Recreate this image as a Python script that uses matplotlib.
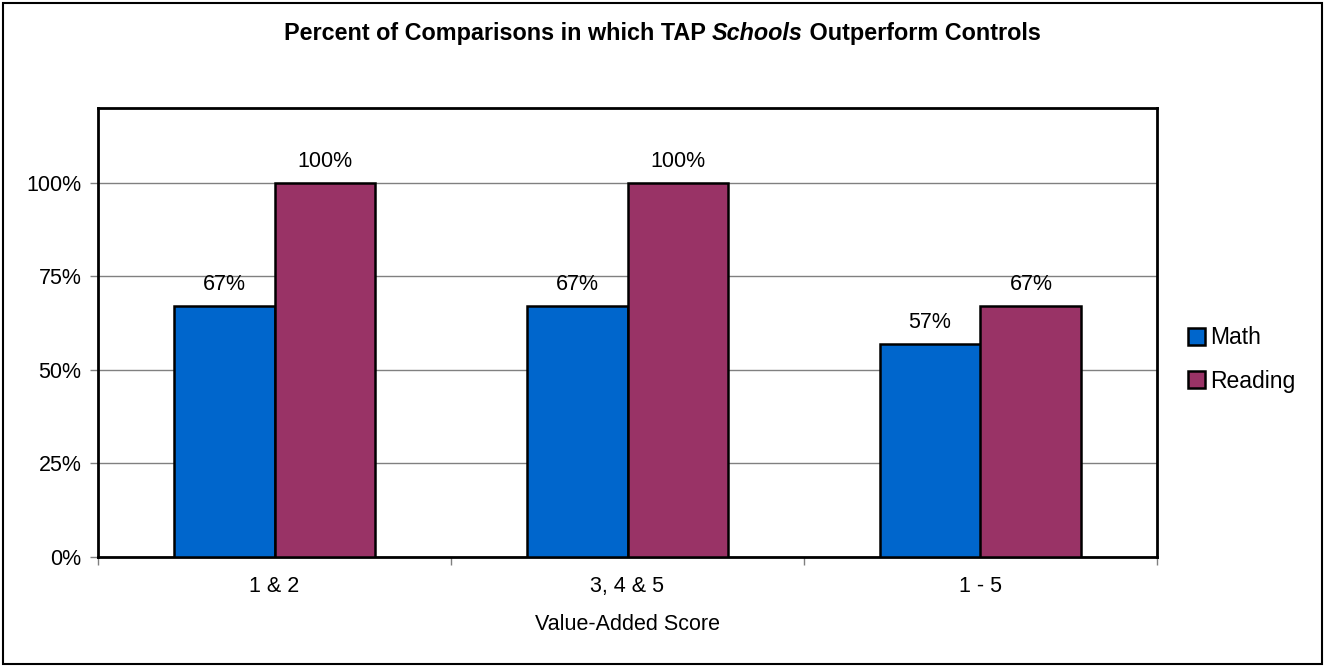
import numpy as np
import matplotlib
matplotlib.use("Agg")
import matplotlib.pyplot as plt
from matplotlib.ticker import FixedLocator, PercentFormatter

categories = ["1 & 2", "3, 4 & 5", "1 - 5"]
math_vals = [67, 67, 57]
reading_vals = [100, 100, 67]
series_names = ["Math", "Reading"]
colors = ["#0066CC", "#993366"]

plt.rcParams["font.family"] = ["Liberation Sans", "DejaVu Sans"]
FS = 15.5

fig = plt.figure(figsize=(13.25, 6.66), dpi=100)
ax = fig.add_axes([98 / 1325, 1 - 557 / 666, (1157 - 98) / 1325, (557 - 108) / 666])

x = np.arange(len(categories))
w = 0.286
for i, (vals, name, c) in enumerate(zip([math_vals, reading_vals], series_names, colors)):
    pos = x + (i - 0.5) * w
    ax.bar(pos, vals, width=w, color=c, edgecolor="black", linewidth=1.8,
           label=name, zorder=3)
    for p, v in zip(pos, vals):
        ax.text(p, v + 3.0, f"{v}%", ha="center", va="bottom", fontsize=FS)

ax.set_xlim(-0.5, len(categories) - 0.5)
ax.set_ylim(0, 120)
ax.set_yticks([0, 25, 50, 75, 100])
ax.yaxis.set_major_formatter(PercentFormatter(decimals=0))
ax.yaxis.grid(True, color="#808080", linewidth=1, zorder=0)
ax.set_xticks(x)
ax.set_xticklabels(categories, fontsize=FS)
ax.xaxis.set_minor_locator(FixedLocator(np.arange(-0.5, len(categories), 1)))
ax.tick_params(axis="x", which="major", length=0, pad=14)
ax.tick_params(axis="x", which="minor", length=6, width=1, color="#808080")
ax.tick_params(axis="y", labelsize=FS, length=6, width=1, color="#808080", pad=6)
for s in ax.spines.values():
    s.set_linewidth(2)
ax.set_xlabel("Value-Added Score", fontsize=FS, labelpad=12)

ax.legend(loc="center left", bbox_to_anchor=(1.01, 0.44), frameon=False,
          fontsize=16.5, handlelength=0.75, handleheight=0.75, handletextpad=0.2,
          labelspacing=0.9)

# title with "Schools" in bold italic
parts = [("Percent of Comparisons in which TAP ", "normal"),
         ("Schools", "italic"),
         (" Outperform Controls", "normal")]
texts = [fig.text(0, 1 - 40 / 666, s, fontsize=16.8, fontweight="bold",
                  fontstyle=st, va="baseline") for s, st in parts]
fig.canvas.draw()
r = fig.canvas.get_renderer()
widths = [t.get_window_extent(r).width for t in texts]
xpos = (1325 / 2 - sum(widths) / 2)
for t, wd in zip(texts, widths):
    t.set_x(xpos / 1325)
    xpos += wd

# outer border
fig.patches.append(plt.Rectangle((3 / 1325, 2 / 664), 1 - 6 / 1325, 1 - 5 / 666,
                                 transform=fig.transFigure, fill=False,
                                 edgecolor="black", linewidth=1.5))

fig.savefig("out.png", dpi=100)
